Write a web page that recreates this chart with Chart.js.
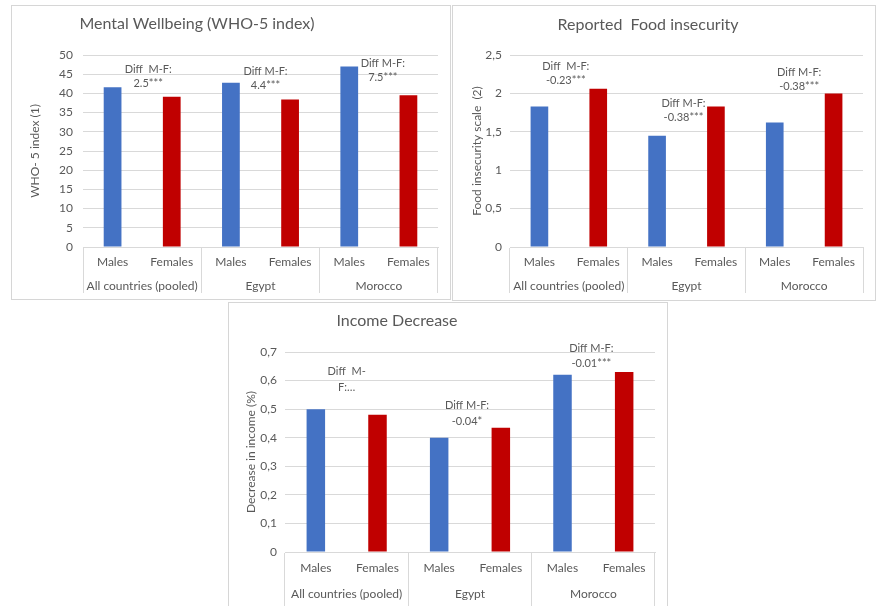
<!DOCTYPE html>
<html>
<head>
<meta charset="utf-8">
<script src="https://cdn.jsdelivr.net/npm/chart.js@4.4.1/dist/chart.umd.min.js"></script>
<style>
  html, body { margin: 0; padding: 0; background: #ffffff; }
  body { width: 881px; height: 606px; position: relative; overflow: hidden; }
  .panel { position: absolute; box-sizing: border-box; border: 1.5px solid #d6d6d6; background: #fff; }
  canvas { position: absolute; }
</style>
</head>
<body>
<div class="panel" style="left:11px;top:5px;width:440px;height:295px;"></div>
<div class="panel" style="left:452px;top:5px;width:424px;height:296px;"></div>
<div class="panel" style="left:228px;top:302px;width:440px;height:330px;"></div>
<canvas id="c1" width="438" height="292" style="left:12px;top:6px;"></canvas>
<canvas id="c2" width="422" height="293" style="left:453px;top:6px;"></canvas>
<canvas id="c3" width="438" height="303" style="left:229px;top:303px;"></canvas>
<script>
// ---------- DATA ----------
const groups = ['All countries (pooled)', 'Egypt', 'Morocco'];
const sexes = ['Males', 'Females'];

const wellbeingMales   = [41.6, 42.8, 47.0];
const wellbeingFemales = [39.1, 38.4, 39.5];
const wellbeingTicks   = ['0', '5', '10', '15', '20', '25', '30', '35', '40', '45', '50'];
const wellbeingDiff    = [['Diff  M-F:', '2.5***'], ['Diff M-F:', '4.4***'], ['Diff M-F:', '7.5***']];

const foodMales   = [1.83, 1.45, 1.62];
const foodFemales = [2.06, 1.83, 2.00];
const foodTicks   = ['0', '0,5', '1', '1,5', '2', '2,5'];
const foodDiff    = [['Diff  M-F:', '-0.23***'], ['Diff M-F:', '-0.38***'], ['Diff M-F:', '-0.38***']];

const incomeMales   = [0.50, 0.40, 0.62];
const incomeFemales = [0.48, 0.435, 0.63];
const incomeTicks   = ['0', '0,1', '0,2', '0,3', '0,4', '0,5', '0,6', '0,7'];
const incomeDiff    = [['Diff  M-', 'F:\u2026'], ['Diff M-F:', '-0.04*'], ['Diff M-F:', '-0.01***']];

// ---------- STYLE ----------
const FONT = 'Lato, "Open Sans", sans-serif';
const TXT = '#595959';
const GRID = '#d9d9d9';
const BLUE = '#4472C4';
const RED = '#C00000';

const categoryLabels = groups.flatMap(() => sexes);

function spread(values, slot) {
  const out = [];
  values.forEach(v => { sexes.forEach((s, j) => out.push(j === slot ? v : null)); });
  return out;
}

const titlePlugin = {
  id: 'panelTitle',
  afterDraw(chart, args, opts) {
    const ctx = chart.ctx;
    ctx.save();
    ctx.font = '16px ' + FONT;
    ctx.fillStyle = TXT;
    ctx.textAlign = 'center';
    ctx.textBaseline = 'middle';
    ctx.fillText(opts.text, opts.x, opts.y);
    ctx.restore();
  }
};

const diffPlugin = {
  id: 'diffNotes',
  afterDatasetsDraw(chart, args, opts) {
    const ctx = chart.ctx;
    const xs = chart.scales.x, ys = chart.scales.y;
    ctx.save();
    ctx.font = '11px ' + FONT;
    ctx.fillStyle = TXT;
    ctx.textAlign = 'center';
    ctx.textBaseline = 'middle';
    opts.notes.forEach((lines, i) => {
      const cx = (xs.getPixelForValue(2 * i) + xs.getPixelForValue(2 * i + 1)) / 2 + opts.dx[i];
      const cy = ys.getPixelForValue(opts.at[i]);
      lines.forEach((t, k) => ctx.fillText(t, cx, cy + k * opts.gap));
    });
    ctx.restore();
  }
};

function makeChart(id, cfg) {
  return new Chart(document.getElementById(id), {
    type: 'bar',
    data: {
      labels: categoryLabels,
      datasets: [
        { label: 'Males', data: spread(cfg.males, 0), backgroundColor: BLUE, borderWidth: 0 },
        { label: 'Females', data: spread(cfg.females, 1), backgroundColor: RED, borderWidth: 0 }
      ]
    },
    options: {
      responsive: false,
      animation: false,
      devicePixelRatio: 1,
      skipNull: true,
      barPercentage: 0.3,
      categoryPercentage: 1.0,
      layout: { padding: { left: cfg.padLeft, right: cfg.padRight, top: cfg.padTop, bottom: 0 } },
      plugins: {
        legend: { display: false },
        tooltip: { enabled: false },
        panelTitle: cfg.title,
        diffNotes: cfg.diff
      },
      scales: {
        x: {
          type: 'category',
          position: 'bottom',
          offset: true,
          grid: {
            offset: true,
            drawOnChartArea: false,
            drawTicks: true,
            tickLength: cfg.sepLen,
            lineWidth: 1,
            color: c => ((c.index ?? 0) % 2 === 0 ? GRID : 'rgba(0,0,0,0)')
          },
          border: { display: true, color: GRID, width: 1 },
          ticks: {
            color: TXT, font: { family: FONT, size: 12 },
            padding: cfg.tickPad1 - cfg.sepLen, autoSkip: false, maxRotation: 0
          },
          afterFit: s => { s.height = cfg.h1; }
        },
        x2: {
          type: 'category',
          position: 'bottom',
          labels: groups,
          offset: true,
          grid: { display: false },
          border: { display: false },
          ticks: {
            color: TXT, font: { family: FONT, size: 12 },
            padding: cfg.tickPad2, autoSkip: false, maxRotation: 0
          },
          afterFit: s => { s.height = cfg.h2; }
        },
        y: {
          min: 0,
          max: cfg.yMax,
          ticks: {
            stepSize: cfg.yStep,
            color: TXT, font: { family: FONT, size: 12 },
            padding: cfg.yPad,
            callback: (v, i) => cfg.yTicks[i]
          },
          grid: { color: GRID, drawTicks: false, lineWidth: 1 },
          border: { display: false },
          title: {
            display: true, text: cfg.yTitle, color: TXT,
            font: { family: FONT, size: 12 }, padding: 0
          },
          afterFit: s => { s.width = cfg.yWidth; }
        }
      }
    },
    plugins: [titlePlugin, diffPlugin]
  });
}

makeChart('c1', {
  males: wellbeingMales, females: wellbeingFemales,
  yMax: 50, yStep: 5, yTicks: wellbeingTicks, yTitle: 'WHO- 5 index (1)',
  padLeft: 16, yWidth: 55, padRight: 12, padTop: 49, yPad: 10,
  sepLen: 46, tickPad1: 8, tickPad2: -2, h1: 26, h2: 25,
  title: { text: 'Mental Wellbeing (WHO-5 index)', x: 185, y: 18 },
  diff: { notes: wellbeingDiff, dx: [6, 5, 4], at: [46.35, 45.8, 47.9], gap: 14 }
});

makeChart('c2', {
  males: foodMales, females: foodFemales,
  yMax: 2.5, yStep: 0.5, yTicks: foodTicks, yTitle: 'Food insecurity scale  (2)',
  padLeft: 17, yWidth: 40, padRight: 12, padTop: 49, yPad: 8,
  sepLen: 46, tickPad1: 8, tickPad2: -2, h1: 26, h2: 26,
  title: { text: 'Reported  Food insecurity', x: 195, y: 19 },
  diff: { notes: foodDiff, dx: [-3, -3, -5], at: [2.35, 1.87, 2.27], gap: 14 }
});

makeChart('c3', {
  males: incomeMales, females: incomeFemales,
  yMax: 0.7, yStep: 0.1, yTicks: incomeTicks, yTitle: 'Decrease in income (%)',
  padLeft: 15, yWidth: 41, padRight: 12, padTop: 49, yPad: 8,
  sepLen: 54, tickPad1: 9, tickPad2: 0, h1: 27, h2: 27,
  title: { text: 'Income Decrease', x: 168, y: 18 },
  diff: { notes: incomeDiff, dx: [0, -3, -2], at: [0.631, 0.512, 0.714], gap: 15.5 }
});
</script>
</body>
</html>
